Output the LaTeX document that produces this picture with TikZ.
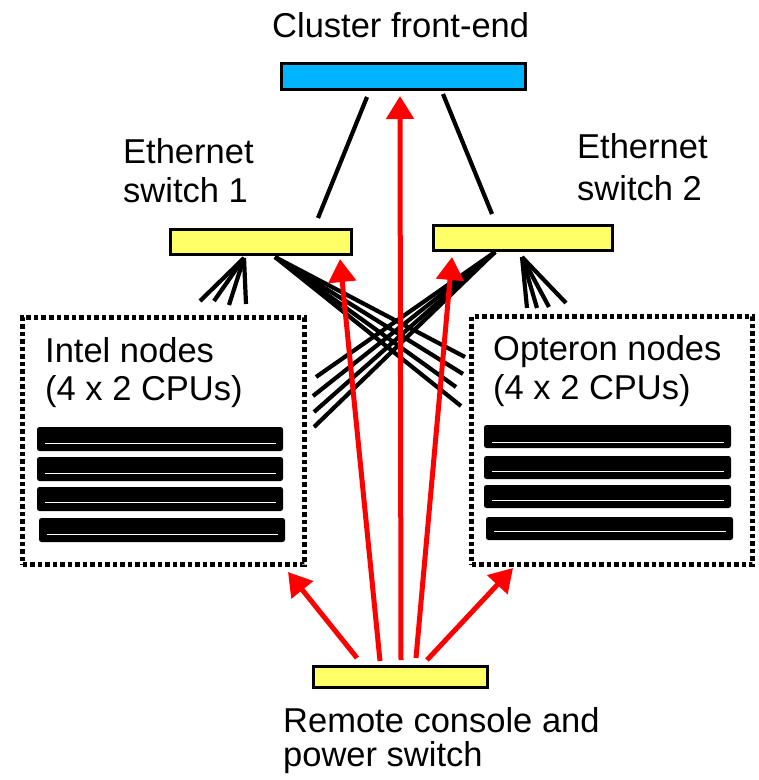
\documentclass[tikz,border=0pt]{standalone}
\usepackage{fontspec}
\setmainfont{Liberation Sans}
\usetikzlibrary{arrows.meta}
\definecolor{feblue}{RGB}{0,180,255}
\definecolor{swyellow}{RGB}{255,255,102}
\begin{document}
\begin{tikzpicture}[x=1pt,y=-1pt,
  box/.style={draw=black, line width=3pt, inner sep=0pt},
  lbl/.style={inner sep=0pt, anchor=base west, align=left},
  wire/.style={line width=4.2pt, black},
  redarrow/.style={line width=5pt, red, -{Triangle[length=23pt,width=27pt]}},
  group/.style={draw=black, line width=5pt, dash pattern=on 4.5pt off 3pt, inner sep=0pt},
  bar/.style={fill=black, rounded corners=2.5pt},
  barline/.style={draw=white, line width=1pt},
]
\useasboundingbox (0,0) rectangle (759,780);

% boxes
\node[box, fill=feblue, minimum width=244pt, minimum height=26pt] (fe) at (403.5,76.5) {};
\node[box, fill=swyellow, minimum width=181pt, minimum height=25pt] (sw1) at (261,241.5) {};
\node[box, fill=swyellow, minimum width=179pt, minimum height=25pt] (sw2) at (523,238) {};
\node[box, fill=swyellow, minimum width=174pt, minimum height=21pt] (rc) at (400.5,677) {};

% node groups
\node[group, minimum width=282pt, minimum height=247pt] (intel) at (163.5,441) {};
\node[group, minimum width=281pt, minimum height=248pt] (opteron) at (612,440.5) {};

% labels
\node[lbl, font=\fontsize{34.5}{39}\selectfont] (felbl) at (272,37) {Cluster front-end};
\node[lbl, font=\fontsize{34.5}{39}\selectfont] (sw1lbl) at (123,202) {Ethernet\\switch 1};
\node[lbl, font=\fontsize{34.5}{42}\selectfont] (sw2lbl) at (577,200) {Ethernet\\switch 2};
\node[lbl, font=\fontsize{34.5}{38}\selectfont] (intellbl) at (45,400) {Intel nodes\\(4 x 2 CPUs)};
\node[lbl, font=\fontsize{34.5}{39}\selectfont] (optlbl) at (493,399) {Opteron nodes\\(4 x 2 CPUs)};
\node[lbl, font=\fontsize{34.5}{34}\selectfont] (rclbl) at (283,766) {Remote console and\\power switch};

% Intel bars
\fill[bar] (37,427) rectangle (283,451);
\fill[bar] (37,457) rectangle (283,481);
\fill[bar] (37,487) rectangle (283,511);
\fill[bar] (39,518) rectangle (285,542);
\draw[barline] (45,443) -- (276,443);
\draw[barline] (45,473) -- (276,473);
\draw[barline] (45,502) -- (276,502);
\draw[barline] (47,534) -- (278,534);

% Opteron bars
\fill[bar] (484,425) rectangle (731,448);
\fill[bar] (484,456) rectangle (731,479);
\fill[bar] (484,485) rectangle (731,508);
\fill[bar] (486,517) rectangle (733,540);
\draw[barline] (492,442) -- (724,442);
\draw[barline] (492,471) -- (724,471);
\draw[barline] (492,500) -- (724,500);
\draw[barline] (494,531) -- (726,531);

% front-end links
\coordinate (feL) at (367,97);
\coordinate (feR) at (443,94);
\coordinate (sw1T) at (318,218);
\coordinate (sw2T) at (492,214);
\draw[wire] (feL) -- (sw1T);
\draw[wire] (feR) -- (sw2T);

% switch 1 -> intel
\coordinate (s1a) at (244,258);
\foreach \x/\y [count=\i] in {200/301, 214/301, 229/305, 246/304}
  \coordinate (i\i) at (\x,\y);
\foreach \i in {1,...,4} \draw[wire] (s1a) -- (i\i);

% switch 2 -> opteron
\coordinate (s2a) at (522,257);
\foreach \x/\y [count=\i] in {527/308, 537/308, 549/307, 566/303}
  \coordinate (o\i) at (\x,\y);
\foreach \i in {1,...,4} \draw[wire] (s2a) -- (o\i);

% switch 1 -> opteron (crossing)
\coordinate (s1b) at (275,257);
\foreach \x/\y [count=\i] in {465/357, 463/374, 456/387, 461/406}
  \coordinate (x\i) at (\x,\y);
\foreach \i in {1,...,4} \draw[wire] (s1b) -- (x\i);

% switch 2 -> intel (crossing)
\coordinate (s2b) at (495,252);
\foreach \x/\y [count=\i] in {316/377, 313/396, 314/412, 314/427}
  \coordinate (y\i) at (\x,\y);
\foreach \i in {1,...,4} \draw[wire] (s2b) -- (y\i);

% remote console red arrows
\coordinate (r1) at (357,658);
\coordinate (r2) at (380,661);
\coordinate (r3) at (401,660);
\coordinate (r4) at (416,658);
\coordinate (r5) at (427,660);
\coordinate (tIntel) at (288,572);
\coordinate (tSw1) at (340,259);
\coordinate (tFe) at (400,96);
\coordinate (tSw2) at (452,257);
\coordinate (tOpt) at (513,568);
\draw[redarrow] (r1) -- (tIntel);
\draw[redarrow] (r2) -- (tSw1);
\draw[redarrow] (r3) -- (tFe);
\draw[redarrow] (r4) -- (tSw2);
\draw[redarrow] (r5) -- (tOpt);
\end{tikzpicture}
\end{document}
